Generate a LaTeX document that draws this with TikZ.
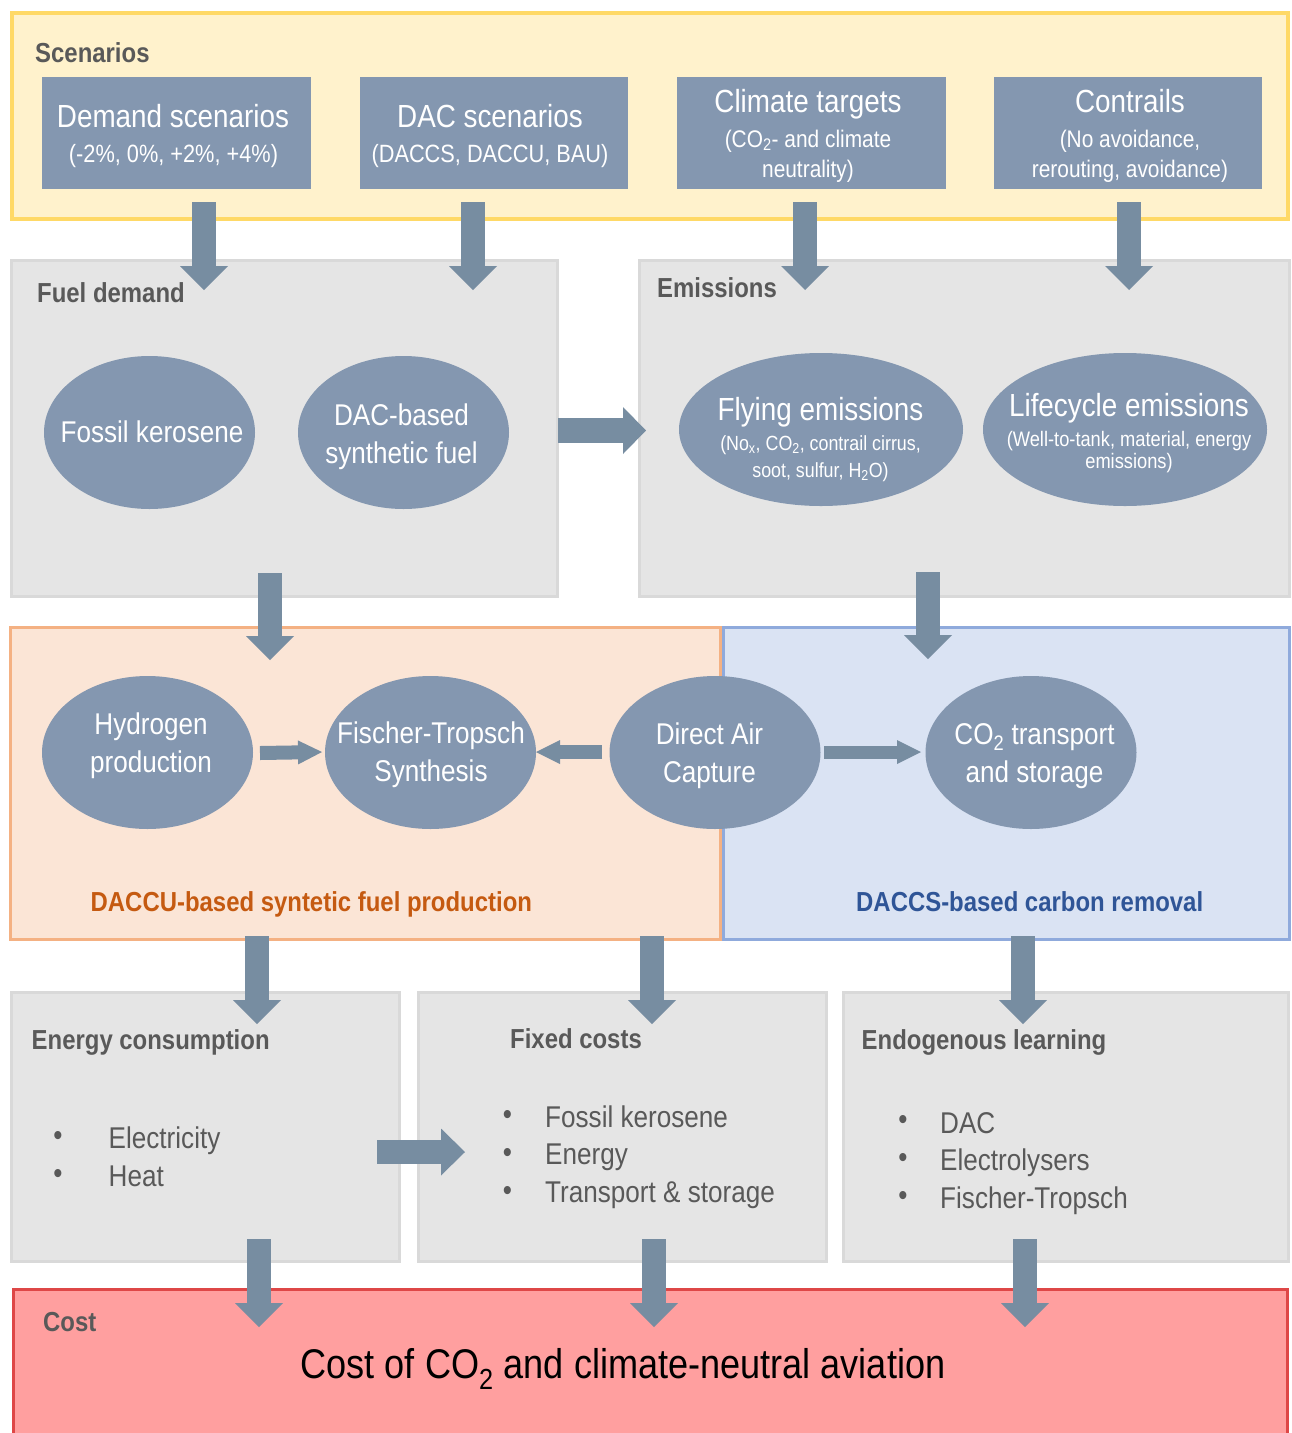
\documentclass[tikz,border=0pt]{standalone}
\usepackage{fontspec}
\setmainfont{Liberation Sans}[FakeStretch=0.87]
\usetikzlibrary{shapes.geometric,arrows.meta,calc}

\definecolor{scfill}{HTML}{FFF2CC}
\definecolor{scline}{HTML}{FFD966}
\definecolor{grfill}{HTML}{E5E5E5}
\definecolor{grline}{HTML}{D9D9D9}
\definecolor{bluenode}{HTML}{8497B0}
\definecolor{arrowcol}{HTML}{778DA1}
\definecolor{orfill}{HTML}{FBE5D6}
\definecolor{orline}{HTML}{F4B183}
\definecolor{blfill}{HTML}{DAE3F3}
\definecolor{blline}{HTML}{8FAADC}
\definecolor{costfill}{HTML}{FF9F9F}
\definecolor{costline}{HTML}{DE4747}
\definecolor{labgray}{HTML}{595959}
\definecolor{orlab}{HTML}{C55A11}
\definecolor{bllab}{HTML}{2F5597}

\newcommand\myfs[1]{\fontsize{#1}{#1}\selectfont}

\tikzset{
  panel/.style={rectangle, anchor=north west, inner sep=0pt, outer sep=0pt, line width=3pt},
  graypanel/.style={panel, draw=grline, fill=grfill},
  sbox/.style={rectangle, anchor=north west, inner sep=0pt, outer sep=0pt, fill=bluenode},
  ell/.style={ellipse, fill=bluenode, inner sep=0pt, outer sep=0pt},
  wt/.style={text=white, inner sep=0pt, anchor=base},
  lab/.style={text=labgray, font=\myfs{27.5}\bfseries, inner sep=0pt, anchor=base west},
  item/.style={text=labgray, font=\myfs{30}, inner sep=0pt, anchor=base west},
  bul/.style={text=labgray, font=\myfs{30}, inner sep=0pt, anchor=center},
  barr/.style={draw=arrowcol, line width=24pt, -{Triangle[width=48pt,length=24pt,line width=0pt]}},
  sarr/.style={draw=arrowcol, line width=13pt, -{Triangle[width=24pt,length=24pt,line width=0pt]}},
}

\begin{document}
\begin{tikzpicture}[x=1pt,y=-1pt]
\clip (0,0) rectangle (1292,1433);
\fill[white] (0,0) rectangle (1292,1433);

% ---------- panels ----------
\node[panel, draw=scline, fill=scfill, line width=4pt, minimum width=1276pt, minimum height=206pt] (scen) at (12,13) {};
\node[graypanel, minimum width=546pt, minimum height=336pt] (fuel) at (11.5,260.5) {};
\node[graypanel, minimum width=650pt, minimum height=336pt] (emis) at (639.5,260.5) {};
\node[panel, draw=orline, fill=orfill, minimum width=710pt, minimum height=312pt] (daccu) at (10.5,627.5) {};
\node[panel, draw=blline, fill=blfill, minimum width=566pt, minimum height=312pt] (daccs) at (723.5,627.5) {};
\node[graypanel, minimum width=388pt, minimum height=269pt] (energy) at (11.5,992.5) {};
\node[graypanel, minimum width=408pt, minimum height=269pt] (fixed) at (418.5,992.5) {};
\node[graypanel, minimum width=445pt, minimum height=269pt] (endo) at (843.5,992.5) {};
\node[panel, draw=costline, fill=costfill, minimum width=1274pt, minimum height=170pt] (cost) at (13.5,1289.5) {};

% ---------- scenario boxes ----------
\node[sbox, minimum width=269pt, minimum height=112pt] (dem) at (42,77) {};
\node[sbox, minimum width=268pt, minimum height=112pt] (dacs) at (360,77) {};
\node[sbox, minimum width=269pt, minimum height=112pt] (clim) at (677,77) {};
\node[sbox, minimum width=268pt, minimum height=112pt] (contr) at (994,77) {};

\node[lab] (scenlab) at (35,62) {Scenarios};
\node[wt, font=\myfs{32}] (demT) at (173,127) {Demand scenarios};
\node[wt, font=\myfs{25}] (demS) at (173.5,162) {(-2\%, 0\%, +2\%, +4\%)};
\node[wt, font=\myfs{32}] (dacT) at (490,127) {DAC scenarios};
\node[wt, font=\myfs{25}] (dacS) at (490,162) {(DACCS, DACCU, BAU)};
\node[wt, font=\myfs{32}] (climT) at (808,112) {Climate targets};
\node[wt, font=\myfs{24}] (climS1) at (808,147) {(CO\textsubscript{2}- and climate};
\node[wt, font=\myfs{24}] (climS2) at (808,177) {neutrality)};
\node[wt, font=\myfs{32}] (contrT) at (1130,112) {Contrails};
\node[wt, font=\myfs{24}] (contrS1) at (1130,147) {(No avoidance,};
\node[wt, font=\myfs{24}] (contrS2) at (1130,177) {rerouting, avoidance)};

% ---------- fuel demand ----------
\node[lab] (fuellab) at (37,302) {Fuel demand};
\node[ell, minimum width=211pt, minimum height=153pt] (fk) at (149.5,432.5) {};
\node[wt, font=\myfs{30}] (fkT) at (152,442) {Fossil kerosene};
\node[ell, minimum width=211pt, minimum height=153pt] (dsf) at (403.5,432.5) {};
\node[wt, font=\myfs{30}] (dsfT1) at (401.5,425) {DAC-based};
\node[wt, font=\myfs{30}] (dsfT2) at (401.5,463) {synthetic fuel};

% ---------- emissions ----------
\node[lab] (emislab) at (657,297) {Emissions};
\node[ell, minimum width=284pt, minimum height=153pt] (fly) at (821,429.5) {};
\node[wt, font=\myfs{32}] (flyT) at (820.5,420) {Flying emissions};
\node[wt, font=\myfs{20.5}] (flyS1) at (820.5,450) {(No\textsubscript{x}, CO\textsubscript{2}, contrail cirrus,};
\node[wt, font=\myfs{20.5}] (flyS2) at (820.5,477) {soot, sulfur, H\textsubscript{2}O)};
\node[ell, minimum width=284pt, minimum height=153pt] (life) at (1125,429.5) {};
\node[wt, font=\myfs{32}] (lifeT) at (1129,416) {Lifecycle emissions};
\node[wt, font=\myfs{21}] (lifeS1) at (1129,446) {(Well-to-tank, material, energy};
\node[wt, font=\myfs{21}] (lifeS2) at (1129,468.5) {emissions)};

% ---------- DACCU / DACCS ----------
\node[ell, minimum width=211pt, minimum height=153pt] (hyd) at (147.5,752.5) {};
\node[wt, font=\myfs{30}] (hydT1) at (151,734.5) {Hydrogen};
\node[wt, font=\myfs{30}] (hydT2) at (151,772.5) {production};
\node[ell, minimum width=211pt, minimum height=153pt] (ft) at (430.5,752.5) {};
\node[wt, font=\myfs{30}] (ftT1) at (431,743.5) {Fischer-Tropsch};
\node[wt, font=\myfs{30}] (ftT2) at (431,781.5) {Synthesis};
\node[ell, minimum width=211pt, minimum height=153pt] (dac) at (715,752.5) {};
\node[wt, font=\myfs{30}] (dacT1) at (709.5,744) {Direct Air};
\node[wt, font=\myfs{30}] (dacT2) at (709.5,782) {Capture};
\node[ell, minimum width=211pt, minimum height=153pt] (co2) at (1031,752.5) {};
\node[wt, font=\myfs{30}] (co2T1) at (1034.5,744) {CO\textsubscript{2} transport};
\node[wt, font=\myfs{30}] (co2T2) at (1034.5,782) {and storage};

\node[text=orlab, font=\myfs{27.5}\bfseries, inner sep=0pt, anchor=base west] (daculab) at (90.5,911) {DACCU-based syntetic fuel production};
\node[text=bllab, font=\myfs{27.5}\bfseries, inner sep=0pt, anchor=base west] (dacslab) at (856,911) {DACCS-based carbon removal};

% ---------- row 4 ----------
\node[lab] (enlab) at (31.5,1049) {Energy consumption};
\node[bul] (enb1) at (58,1138) {\textbullet};
\node[bul] (enb2) at (58,1176) {\textbullet};
\node[item] (en1) at (108.5,1148.5) {Electricity};
\node[item] (en2) at (108.5,1186.5) {Heat};

\node[lab] (fixlab) at (510,1048.5) {Fixed costs};
\node[bul] (fxb1) at (507.5,1117) {\textbullet};
\node[bul] (fxb2) at (507.5,1155) {\textbullet};
\node[bul] (fxb3) at (507.5,1193) {\textbullet};
\node[item] (fx1) at (545,1127) {Fossil kerosene};
\node[item] (fx2) at (545,1164.5) {Energy};
\node[item] (fx3) at (545,1202) {Transport \& storage};

\node[lab] (endlab) at (861.5,1049) {Endogenous learning};
\node[bul] (edb1) at (903,1122) {\textbullet};
\node[bul] (edb2) at (903,1160) {\textbullet};
\node[bul] (edb3) at (903,1198) {\textbullet};
\node[item] (ed1) at (940,1133) {DAC};
\node[item] (ed2) at (940,1170.5) {Electrolysers};
\node[item] (ed3) at (940,1208.5) {Fischer-Tropsch};

% ---------- cost ----------
\node[lab] (costlab) at (43,1331.5) {Cost};
\node[text=black, font=\myfs{41.5}, inner sep=0pt, anchor=base] (costT) at (623,1378) {Cost of CO\textsubscript{2} and climate-neutral aviation};

% ---------- arrow end points ----------
\coordinate (a1s) at (204,202);   \coordinate (a1e) at (204,290);
\coordinate (a2s) at (473,202);   \coordinate (a2e) at (473,290);
\coordinate (a3s) at (805,202);   \coordinate (a3e) at (805,290);
\coordinate (a4s) at (1129,202);  \coordinate (a4e) at (1129,290);
\coordinate (a5s) at (558,430.5); \coordinate (a5e) at (646,430.5);
\coordinate (a6s) at (270,573);   \coordinate (a6e) at (270,660);
\coordinate (a7s) at (928,572);   \coordinate (a7e) at (928,659);
\coordinate (a8s) at (260,753);   \coordinate (a8e) at (322,752);
\coordinate (a9s) at (602,752);   \coordinate (a9e) at (536,752);
\coordinate (a10s) at (824,752);  \coordinate (a10e) at (921,752);
\coordinate (a11s) at (257,936);  \coordinate (a11e) at (257,1024);
\coordinate (a12s) at (652,936);  \coordinate (a12e) at (652,1024);
\coordinate (a13s) at (1023,936); \coordinate (a13e) at (1023,1024);
\coordinate (a14s) at (377,1152); \coordinate (a14e) at (465,1152);
\coordinate (a15s) at (259,1239); \coordinate (a15e) at (259,1327);
\coordinate (a16s) at (654,1239); \coordinate (a16e) at (654,1327);
\coordinate (a17s) at (1025,1239);\coordinate (a17e) at (1025,1327);

% ---------- arrows ----------
\draw[barr] (a1s) -- (a1e);
\draw[barr] (a2s) -- (a2e);
\draw[barr] (a3s) -- (a3e);
\draw[barr] (a4s) -- (a4e);
\draw[barr, line width=25pt, -{Triangle[width=47pt,length=23pt,line width=0pt]}] (a5s) -- (a5e);
\draw[barr] (a6s) -- (a6e);
\draw[barr] (a7s) -- (a7e);
\draw[sarr, line width=14pt] (a8s) -- (a8e);
\draw[sarr, line width=14pt] (a9s) -- (a9e);
\draw[sarr] (a10s) -- (a10e);
\draw[barr] (a11s) -- (a11e);
\draw[barr] (a12s) -- (a12e);
\draw[barr] (a13s) -- (a13e);
\draw[barr, -{Triangle[width=47pt,length=24pt,line width=0pt]}] (a14s) -- (a14e);
\draw[barr] (a15s) -- (a15e);
\draw[barr] (a16s) -- (a16e);
\draw[barr] (a17s) -- (a17e);
\end{tikzpicture}
\end{document}
